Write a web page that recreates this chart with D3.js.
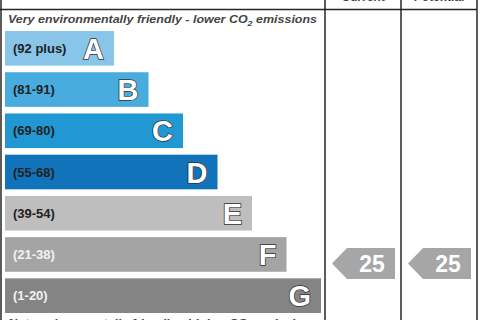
<!DOCTYPE html>
<html><head><meta charset="utf-8">
<script src="https://cdn.jsdelivr.net/npm/d3@7"></script>
<style>html,body{margin:0;padding:0;background:#fff;overflow:hidden}</style>
</head><body>
<svg id="c" width="480" height="320"></svg>
<script>
const bands = ["A","B","C","D","E","F","G"];
const ranges = ["(92 plus)","(81-91)","(69-80)","(55-68)","(39-54)","(21-38)","(1-20)"];
const bandMin = [92,81,69,55,39,21,1];
const bandMax = [100,91,80,68,54,38,20];
const colors = ["#88c5e9","#48acdf","#2198d3","#1173b9","#bebebe","#a4a4a4","#848484"];
const rangeTextColors = ["#222","#222","#222","#222","#222","#f2f2f2","#f2f2f2"];
const columns = ["Current","Potential"];
const scores = [25,25];

const svg = d3.select("#c");
const font = "'Liberation Sans', Arial, sans-serif";
const lineColor = "#262626";

const y = d3.scaleBand().domain(bands).range([31, 313]).paddingInner(0.16).paddingOuter(0);
const w = d3.scaleLinear().domain([0, 6]).range([109, 316]);
const x0 = 5;
const col = d3.scaleBand().domain(columns).range([325, 477]);

columns.forEach(c => {
  svg.append("text").attr("x", col(c) + col.bandwidth()/2).attr("y", 1)
    .attr("text-anchor","middle").attr("font-family",font).attr("font-weight","bold")
    .attr("font-size",12).attr("fill","#444").text(c);
});

function caption(yy, main){
  const t = svg.append("text").attr("x",8).attr("y",yy).attr("font-family",font)
    .attr("font-style","italic").attr("font-weight","bold").attr("font-size",11)
    .attr("fill","#444").attr("textLength",309).attr("lengthAdjust","spacingAndGlyphs");
  t.append("tspan").text(main);
  t.append("tspan").attr("dy",3).attr("font-size",8).text("2");
  t.append("tspan").attr("dy",-3).text(" emissions");
}
caption(23, "Very environmentally friendly - lower CO");
caption(327, "Not environmentally friendly - higher CO");

const g = svg.selectAll("g.band").data(bands).enter().append("g").attr("class","band");
g.append("rect").attr("x",x0).attr("y",d=>y(d)).attr("height",y.bandwidth())
  .attr("width",(d,i)=>w(i)).attr("fill",(d,i)=>colors[i]);
g.append("text").attr("x",13).attr("y",d=>y(d)+y.bandwidth()/2+4.5)
  .attr("font-family",font).attr("font-weight","bold").attr("font-size",13)
  .attr("fill",(d,i)=>rangeTextColors[i]).text((d,i)=>ranges[i]);
g.append("text").attr("x",(d,i)=>x0+w(i)-10).attr("y",d=>y(d)+y.bandwidth()/2+10.5)
  .attr("text-anchor","end").attr("font-family",font).attr("font-weight","bold")
  .attr("font-size",29).attr("fill","#fff").attr("stroke","#333").attr("stroke-width",1.5)
  .attr("paint-order","stroke").text(d=>d);

const L = (x1,y1,x2,y2)=>svg.append("line").attr("x1",x1).attr("y1",y1).attr("x2",x2).attr("y2",y2)
  .attr("stroke",lineColor).attr("stroke-width",1.5);
L(1,0,1,320); L(0,9.5,477,9.5);
col.domain().forEach(c=>L(col(c),0,col(c),320));
L(477,0,477,320);

function scoreY(v){
  const i = bandMin.findIndex((m,k)=>v>=m && v<=bandMax[k]);
  const b = bands[i];
  const s = d3.scaleLinear().domain([bandMax[i], bandMin[i]]).range([y(b), y(b)+y.bandwidth()]);
  return s(v);
}
columns.forEach((c,i)=>{
  const v = scores[i];
  const cy = scoreY(v);
  const h = 31, left = col(c)+7, right = col(c)+70, tip = 15;
  svg.append("path").attr("d",`M${left},${cy} L${left+tip},${cy-h/2} L${right},${cy-h/2} L${right},${cy+h/2} L${left+tip},${cy+h/2} Z`)
    .attr("fill","#a6a6a6");
  svg.append("text").attr("x",(left+tip+right)/2+1).attr("y",cy+8).attr("text-anchor","middle")
    .attr("font-family",font).attr("font-weight","bold").attr("font-size",23).attr("fill","#fff").text(v);
});
</script>
</body></html>
